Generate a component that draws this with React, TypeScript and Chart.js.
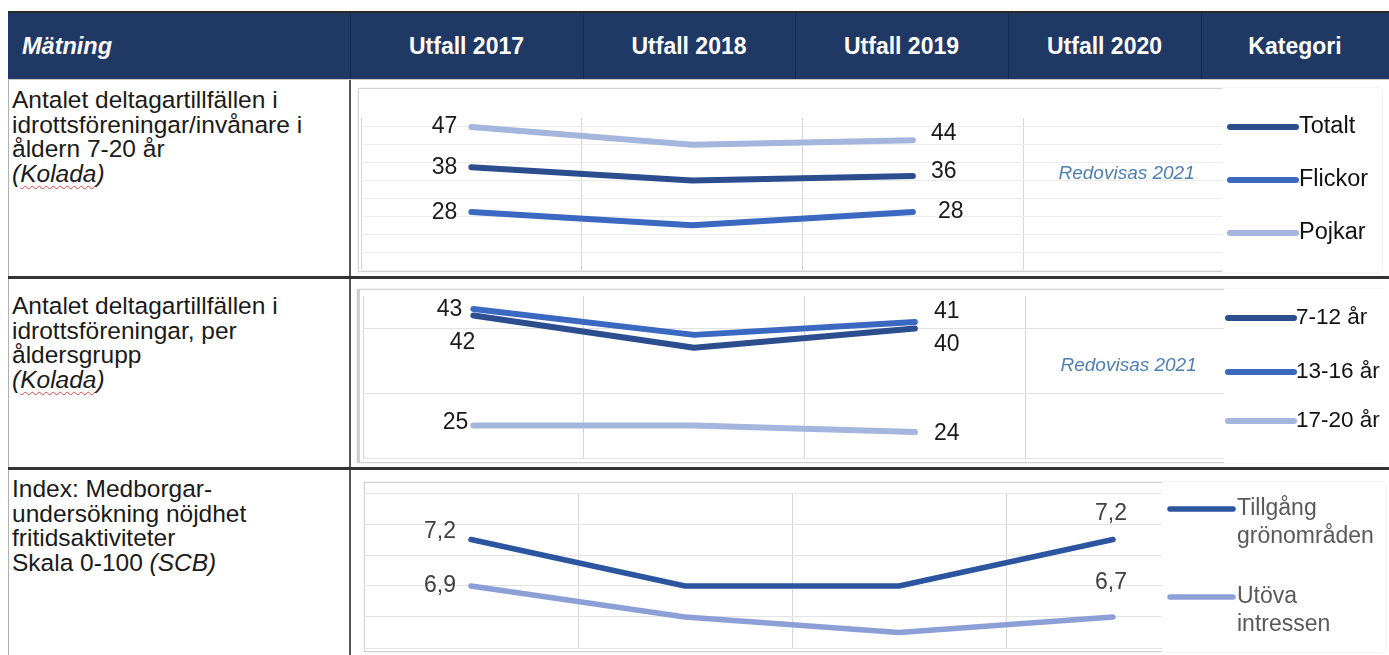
import React, { useEffect, useRef } from "react";
import { Chart, registerables } from "chart.js";
Chart.register(...registerables);

const FONT = '"Liberation Sans", Arial, Helvetica, sans-serif';

// ---------- data ----------
const years = ["2017", "2018", "2019", "2020"];
const headerLabels = ["Utfall 2017", "Utfall 2018", "Utfall 2019", "Utfall 2020", "Kategori"];
const firstHeader = "Mätning";
const pendingNote = "Redovisas 2021";

// Row 1: deltagartillfällen / invånare 7-20 år
const row1Names = ["Totalt", "Flickor", "Pojkar"];
const totalt = [38, 35, 36, null];
const flickor = [28, 25, 28, null];
const pojkar = [47, 43, 44, null];
const row1Grid = [15, 19, 23, 27, 31, 35, 39, 43, 47];

// Row 2: per åldersgrupp
const row2Names = ["7-12 år", "13-16 år", "17-20 år"];
const age7to12 = [42, 37, 40, null];
const age13to16 = [43, 39, 41, null];
const age17to20 = [25, 25, 24, null];
const row2Grid = [20, 30, 40];

// Row 3: medborgarundersökning
const row3Names = ["Tillgång\ngrönområden", "Utöva\nintressen"];
const gronomraden = [7.2, 6.9, 6.9, 7.2];
const utova = [6.9, 6.7, 6.6, 6.7];
const row3Grid = [6.5, 6.7, 6.9, 7.1, 7.3, 7.5];

// ---------- styles ----------
const DARK = "#2c4d8e";
const MID = "#3b68c0";
const LIGHT = "#a4b6dd";
const R3_DARK = "#2c559f";
const R3_LIGHT = "#8c9fd7";

type Place = [number, number, CanvasTextAlign];

function valueLabels(places: { start: Place; end: Place }[], font: string, color: string, decimals: number) {
  return {
    id: "valueLabels",
    afterDatasetsDraw(chart: any) {
      const ctx = chart.ctx;
      ctx.save();
      ctx.font = font;
      ctx.fillStyle = color;
      ctx.textBaseline = "middle";
      chart.data.datasets.forEach((ds: any, i: number) => {
        const meta = chart.getDatasetMeta(i);
        const idx = ds.data.map((v: any, k: number) => (v == null ? -1 : k)).filter((k: number) => k >= 0);
        if (!idx.length) return;
        const pairs: [number, Place][] = [
          [idx[0], places[i].start],
          [idx[idx.length - 1], places[i].end],
        ];
        for (const [k, p] of pairs) {
          const el = meta.data[k];
          const v = ds.data[k] as number;
          const txt = decimals ? v.toFixed(decimals).replace(".", ",") : String(v);
          ctx.textAlign = p[2];
          ctx.fillText(txt, el.x + p[0], el.y + p[1]);
        }
      });
      ctx.restore();
    },
  };
}

function sideLegend(cfg: {
  clearFrom: number;
  x: number;
  lineLen: number;
  gap: number;
  ys: number[];
  font: string;
  color: string;
  lineHeight: number;
  lineWidth: number;
}) {
  return {
    id: "sideLegend",
    beforeDatasetsDraw(chart: any) {
      const ctx = chart.ctx;
      ctx.save();
      ctx.fillStyle = "#ffffff";
      ctx.fillRect(cfg.clearFrom, 0, chart.width - cfg.clearFrom, chart.height);
      ctx.restore();
    },
    afterDatasetsDraw(chart: any) {
      const ctx = chart.ctx;
      ctx.save();
      chart.data.datasets.forEach((ds: any, i: number) => {
        const y = cfg.ys[i];
        ctx.strokeStyle = ds.borderColor;
        ctx.lineWidth = cfg.lineWidth;
        ctx.lineCap = "round";
        ctx.beginPath();
        ctx.moveTo(cfg.x, y);
        ctx.lineTo(cfg.x + cfg.lineLen, y);
        ctx.stroke();
        ctx.fillStyle = cfg.color;
        ctx.font = cfg.font;
        ctx.textAlign = "left";
        ctx.textBaseline = "middle";
        String(ds.label)
          .split("\n")
          .forEach((t: string, j: number) => ctx.fillText(t, cfg.x + cfg.lineLen + cfg.gap, y + j * cfg.lineHeight));
      });
      ctx.restore();
    },
  };
}

function noteText(text: string, index: number, dx: number, y: number) {
  return {
    id: "noteText",
    afterDatasetsDraw(chart: any) {
      const ctx = chart.ctx;
      ctx.save();
      ctx.font = `italic 19px ${FONT}`;
      ctx.fillStyle = "#4f7fb2";
      ctx.textAlign = "center";
      ctx.textBaseline = "middle";
      ctx.fillText(text, chart.scales.x.getPixelForValue(index) + dx, y);
      ctx.restore();
    },
  };
}

function lineDs(label: string, data: (number | null)[], color: string, width: number) {
  return {
    label,
    data,
    borderColor: color,
    backgroundColor: color,
    borderWidth: width,
    borderCapStyle: "round",
    borderJoinStyle: "round",
    pointRadius: 0,
    pointHoverRadius: 0,
    tension: 0,
    fill: false,
    spanGaps: false,
  };
}

function makeConfig(opts: {
  datasets: any[];
  yMin: number;
  yMax: number;
  grid: number[];
  padding: { left: number; right: number; top: number; bottom: number };
  hGrid: string;
  plugins: any[];
}) {
  return {
    type: "line",
    data: { labels: years, datasets: opts.datasets },
    options: {
      animation: false,
      responsive: false,
      layout: { padding: opts.padding },
      plugins: { legend: { display: false }, tooltip: { enabled: false } },
      scales: {
        x: {
          type: "category",
          offset: true,
          grid: { offset: true, color: "#d6d6d6", lineWidth: 1, drawTicks: false },
          ticks: { display: false },
          border: { display: false },
        },
        y: {
          min: opts.yMin,
          max: opts.yMax,
          afterBuildTicks: (s: any) => {
            s.ticks = opts.grid.map((v) => ({ value: v }));
          },
          ticks: { display: false },
          grid: { color: opts.hGrid, lineWidth: 1, drawTicks: false },
          border: { display: false },
        },
      },
    },
    plugins: opts.plugins,
  };
}

function ChartBox(props: { left: number; top: number; width: number; height: number; config: any; border?: any }) {
  const ref = useRef<HTMLCanvasElement>(null);
  useEffect(() => {
    const chart = new Chart(ref.current as HTMLCanvasElement, props.config);
    return () => chart.destroy();
  }, []);
  return (
    <div
      style={{
        position: "absolute",
        left: props.left,
        top: props.top,
        width: props.width,
        height: props.height,
        boxSizing: "border-box",
        border: "1.5px solid #d2d2d2",
        boxShadow: "0 0 2px rgba(0,0,0,0.12)",
        background: "#fff",
        ...(props.border || {}),
      }}
    >
      <canvas
        ref={ref}
        width={props.width}
        height={props.height}
        style={{ position: "absolute", left: -1.5, top: -1.5, width: props.width, height: props.height }}
      />
    </div>
  );
}

const LABEL_FONT = `23px ${FONT}`;

const row1Config = makeConfig({
  datasets: [
    lineDs(row1Names[0], totalt, DARK, 6),
    lineDs(row1Names[1], flickor, MID, 6),
    lineDs(row1Names[2], pojkar, LIGHT, 6),
  ],
  yMin: 15,
  yMax: 49,
  grid: row1Grid,
  padding: { left: 3, right: 138, top: 30, bottom: 2 },
  hGrid: "#ebebeb",
  plugins: [
    sideLegend({ clearFrom: 864, x: 872, lineLen: 66, gap: 3, ys: [39, 92, 145], font: `23.5px ${FONT}`, color: "#111", lineHeight: 28, lineWidth: 6 }),
    valueLabels(
      [
        { start: [-14, 0, "right"], end: [18, -4, "left"] },
        { start: [-14, 1, "right"], end: [25, 0, "left"] },
        { start: [-14, 0, "right"], end: [18, -7, "left"] },
      ],
      LABEL_FONT,
      "#1a1a1a",
      0
    ),
    noteText(pendingNote, 3, -7, 86),
  ],
});

const row2Config = makeConfig({
  datasets: [
    lineDs(row2Names[0], age7to12, DARK, 6),
    lineDs(row2Names[1], age13to16, MID, 6),
    lineDs(row2Names[2], age17to20, LIGHT, 6),
  ],
  yMin: 20,
  yMax: 45,
  grid: row2Grid,
  padding: { left: 4, right: 141, top: 7, bottom: 5 },
  hGrid: "#e2e2e2",
  plugins: [
    sideLegend({ clearFrom: 865, x: 869, lineLen: 66, gap: 2, ys: [29, 83, 132], font: `22.5px ${FONT}`, color: "#111", lineHeight: 28, lineWidth: 6 }),
    valueLabels(
      [
        { start: [2, 27, "right"], end: [19, 16, "left"] },
        { start: [-11, 1, "right"], end: [19, -10, "left"] },
        { start: [-5, -3, "right"], end: [19, 2, "left"] },
      ],
      LABEL_FONT,
      "#1a1a1a",
      0
    ),
    noteText(pendingNote, 3, -7, 77),
  ],
});

const row3Config = makeConfig({
  datasets: [lineDs(row3Names[0], gronomraden, R3_DARK, 5.5), lineDs(row3Names[1], utova, R3_LIGHT, 5.5)],
  yMin: 6.5,
  yMax: 7.5,
  grid: row3Grid,
  padding: { left: 0, right: 165, top: 11, bottom: 4 },
  hGrid: "#e4e4e4",
  plugins: [
    sideLegend({ clearFrom: 798, x: 806, lineLen: 63, gap: 4, ys: [27, 115], font: `23px ${FONT}`, color: "#595959", lineHeight: 28, lineWidth: 5.5 }),
    valueLabels(
      [
        { start: [-15, -8, "right"], end: [-2, -26, "center"] },
        { start: [-15, 0, "right"], end: [-2, -34, "center"] },
      ],
      LABEL_FONT,
      "#404040",
      1
    ),
  ],
});

const colBounds = [8, 350, 583, 795, 1008, 1201, 1389];

function Kolada() {
  return (
    <span style={{ fontStyle: "italic" }}>
      (<span style={{ textDecoration: "underline wavy #d44", textDecorationThickness: 1, textUnderlineOffset: 3 }}>Kolada</span>)
    </span>
  );
}

const textStyle: React.CSSProperties = {
  position: "absolute",
  left: 12,
  fontFamily: FONT,
  fontSize: 24.5,
  lineHeight: "24.5px",
  color: "#1a1a1a",
  whiteSpace: "pre",
};

export default function App() {
  return (
    <div
      style={{
        position: "absolute",
        left: 0,
        top: 0,
        width: 1389,
        height: 655,
        overflow: "hidden",
        background: "#fff",
        fontFamily: FONT,
      }}
    >
      {/* header */}
      <div style={{ position: "absolute", left: 8, top: 11, width: 1381, height: 2, background: "#2a2a2a" }} />
      <div style={{ position: "absolute", left: 8, top: 13, width: 1381, height: 66, background: "#1f3864" }} />
      <div style={{ position: "absolute", left: 8, top: 79, width: 1381, height: 1, background: "#c8c8c8" }} />
      {colBounds.slice(1, 6).map((x) => (
        <div key={x} style={{ position: "absolute", left: x, top: 13, width: 1, height: 66, background: "#142a4e" }} />
      ))}
      <div
        style={{
          position: "absolute",
          left: 22,
          top: 13,
          height: 66,
          lineHeight: "66px",
          color: "#fff",
          fontWeight: "bold",
          fontStyle: "italic",
          fontSize: 23.5,
        }}
      >
        {firstHeader}
      </div>
      {headerLabels.map((h, i) => (
        <div
          key={h}
          style={{
            position: "absolute",
            left: colBounds[i + 1],
            width: colBounds[i + 2] - colBounds[i + 1],
            top: 13,
            height: 66,
            lineHeight: "66px",
            textAlign: "center",
            color: "#fff",
            fontWeight: "bold",
            fontSize: 23,
          }}
        >
          {h}
        </div>
      ))}

      {/* table lines */}
      <div style={{ position: "absolute", left: 8, top: 80, width: 1, height: 575, background: "#b0b0b0" }} />
      <div style={{ position: "absolute", left: 349, top: 80, width: 2, height: 575, background: "#555" }} />
      <div style={{ position: "absolute", left: 8, top: 276, width: 1381, height: 3, background: "#333" }} />
      <div style={{ position: "absolute", left: 8, top: 467, width: 1381, height: 3, background: "#333" }} />

      {/* left column texts */}
      <div style={{ ...textStyle, top: 88 }}>
        {"Antalet deltagartillfällen i\nidrottsföreningar/invånare i\nåldern 7-20 år\n"}
        <Kolada />
      </div>
      <div style={{ ...textStyle, top: 294 }}>
        {"Antalet deltagartillfällen i\nidrottsföreningar, per\nåldersgrupp\n"}
        <Kolada />
      </div>
      <div style={{ ...textStyle, top: 477 }}>
        {"Index: Medborgar-\nundersökning nöjdhet\nfritidsaktiviteter\nSkala 0-100 "}
        <span style={{ fontStyle: "italic" }}>(SCB)</span>
      </div>

      {/* charts */}
      <ChartBox left={358} top={88} width={1024} height={184} config={row1Config} />
      <ChartBox
        left={357}
        top={289}
        width={1028}
        height={174}
        config={row2Config}
        border={{ borderLeft: "3px solid #cfcfcf" }}
      />
      <ChartBox left={364} top={482} width={1021} height={170} config={row3Config} />
    </div>
  );
}
